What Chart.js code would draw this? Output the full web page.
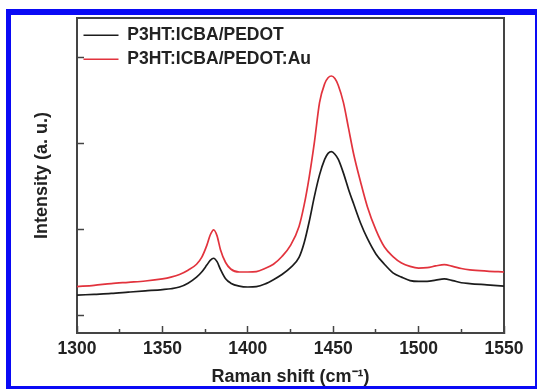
<!DOCTYPE html>
<html>
<head>
<meta charset="utf-8">
<script src="https://cdn.jsdelivr.net/npm/chart.js"></script>
<style>
  body { margin: 0; background: #fff; }
  #wrap { position: relative; width: 538px; height: 390px; }
  #frame {
    position: absolute; left: 6px; top: 9px; width: 531px; height: 380px;
    box-sizing: border-box; pointer-events: none;
    border-left: 5px solid #0a0af5; border-top: 6px solid #0a0af5;
    border-right: 2px solid #0a0af5; border-bottom: 3px solid #0a0af5;
  }
</style>
</head>
<body>
<div id="wrap">
  <canvas id="chart" width="538" height="390"></canvas>
  <div id="frame"></div>
</div>
<script>
// Raman shift (cm-1)
const ramanShift = [1300, 1310, 1320, 1330, 1340, 1350, 1355, 1360, 1365, 1370, 1373, 1376, 1378, 1380, 1382, 1384, 1387, 1390, 1395, 1400,
  1405, 1410, 1415, 1420, 1425, 1430, 1433, 1436, 1439, 1442, 1445, 1447, 1449, 1451, 1453, 1456, 1459, 1462, 1466, 1470,
  1475, 1480, 1485, 1490, 1495, 1500, 1505, 1510, 1515, 1520, 1525, 1530, 1540, 1550];

// intensite (u.a.)
const pedot = [1.24, 1.25, 1.26, 1.275, 1.29, 1.305, 1.315, 1.335, 1.38, 1.45, 1.51, 1.59, 1.645, 1.67, 1.63, 1.54, 1.43, 1.38, 1.345, 1.335,
  1.34, 1.37, 1.42, 1.48, 1.56, 1.68, 1.85, 2.10, 2.39, 2.64, 2.82, 2.89, 2.91, 2.88, 2.82, 2.66, 2.47, 2.30, 2.08, 1.90,
  1.72, 1.60, 1.50, 1.45, 1.41, 1.40, 1.40, 1.415, 1.43, 1.41, 1.385, 1.375, 1.36, 1.345];

const pedotAu = [1.34, 1.355, 1.375, 1.39, 1.405, 1.43, 1.45, 1.48, 1.53, 1.60, 1.68, 1.82, 1.94, 2.0, 1.93, 1.77, 1.62, 1.545, 1.51, 1.51,
  1.515, 1.55, 1.60, 1.69, 1.82, 2.04, 2.29, 2.62, 3.02, 3.48, 3.70, 3.77, 3.79, 3.76, 3.68, 3.48, 3.18, 2.88, 2.56, 2.27,
  2.00, 1.80, 1.69, 1.615, 1.575, 1.555, 1.56, 1.58, 1.595, 1.575, 1.55, 1.535, 1.52, 1.51];

const xTicks = [1300, 1350, 1400, 1450, 1500, 1550];
const xMinorTicks = [1325, 1375, 1425, 1475, 1525];
const yTicks = [1, 2, 3, 4];

const font = "'Liberation Sans', Arial, sans-serif";
const axisColor = "#444";

const toPoints = ys => ramanShift.map((x, i) => ({ x: x, y: ys[i] }));
const setTicks = vals => axis => { axis.ticks = vals.map(v => ({ value: v })); };

chart = new Chart(document.getElementById("chart").getContext("2d"), {
  type: "line",
  data: {
    datasets: [
      { label: "P3HT:ICBA/PEDOT", data: toPoints(pedot), borderColor: "#1c1c1c", backgroundColor: "#1c1c1c",
        borderWidth: 1.7, pointRadius: 0, cubicInterpolationMode: "monotone", xAxisID: "x", yAxisID: "y" },
      { label: "P3HT:ICBA/PEDOT:Au", data: toPoints(pedotAu), borderColor: "#e2333d", backgroundColor: "#e2333d",
        borderWidth: 1.7, pointRadius: 0, cubicInterpolationMode: "monotone", xAxisID: "x", yAxisID: "y" }
    ]
  },
  options: {
    responsive: false,
    animation: false,
    layout: { padding: { left: 0, top: 18, right: 34, bottom: 0 } },
    plugins: {
      tooltip: { enabled: false },
      legend: {
        position: "chartArea",
        align: "start",
        // titre vide = decalage vertical de la legende
        title: { display: true, text: "", font: { size: 1 }, padding: { top: 0, bottom: 18.8 } },
        labels: {
          usePointStyle: true, pointStyle: "line", pointStyleWidth: 35,
          padding: 6.5, color: "#222",
          font: { family: font, size: 17.5, weight: "bold" }
        }
      }
    },
    scales: {
      x: {
        type: "linear", position: "bottom", min: 1300, max: 1550, weight: 1,
        afterBuildTicks: setTicks(xTicks),
        afterFit: s => { s.height = 57; },
        grid: { drawOnChartArea: false, tickLength: -7, tickColor: axisColor, tickWidth: 1.5 },
        border: { color: axisColor, width: 2 },
        ticks: { padding: 13, color: "#222", callback: v => String(v),
          font: { family: font, size: 17.5, weight: "bold" } },
        title: { display: true, text: "Raman shift (cm⁻¹)", color: "#222", padding: { top: 0, bottom: 2 },
          font: { family: font, size: 18, weight: "bold" } }
      },
      xm: {
        type: "linear", position: "bottom", min: 1300, max: 1550, weight: 0,
        afterBuildTicks: setTicks(xMinorTicks),
        afterFit: s => { s.height = 0; },
        grid: { drawOnChartArea: false, tickLength: -4, tickColor: axisColor, tickWidth: 1.5 },
        border: { display: false },
        ticks: { display: false }
      },
      x2: {
        type: "linear", position: "top", min: 1300, max: 1550,
        afterFit: s => { s.height = 0; },
        grid: { display: false },
        border: { color: axisColor, width: 2 },
        ticks: { display: false }
      },
      y: {
        type: "linear", position: "left", min: 0.8, max: 4.465,
        afterBuildTicks: setTicks(yTicks),
        afterFit: s => { s.width = 77; },
        grid: { drawOnChartArea: false, tickLength: -7, tickColor: axisColor, tickWidth: 1.5 },
        border: { color: axisColor, width: 2 },
        ticks: { display: false },
        title: { display: true, text: "Intensity (a. u.)", color: "#222", padding: { top: 31, bottom: 0 },
          font: { family: font, size: 18, weight: "bold" } }
      },
      y2: {
        type: "linear", position: "right", min: 0.8, max: 4.465,
        afterFit: s => { s.width = 0; },
        grid: { display: false },
        border: { color: axisColor, width: 2 },
        ticks: { display: false }
      }
    }
  }
});
</script>
</body>
</html>
